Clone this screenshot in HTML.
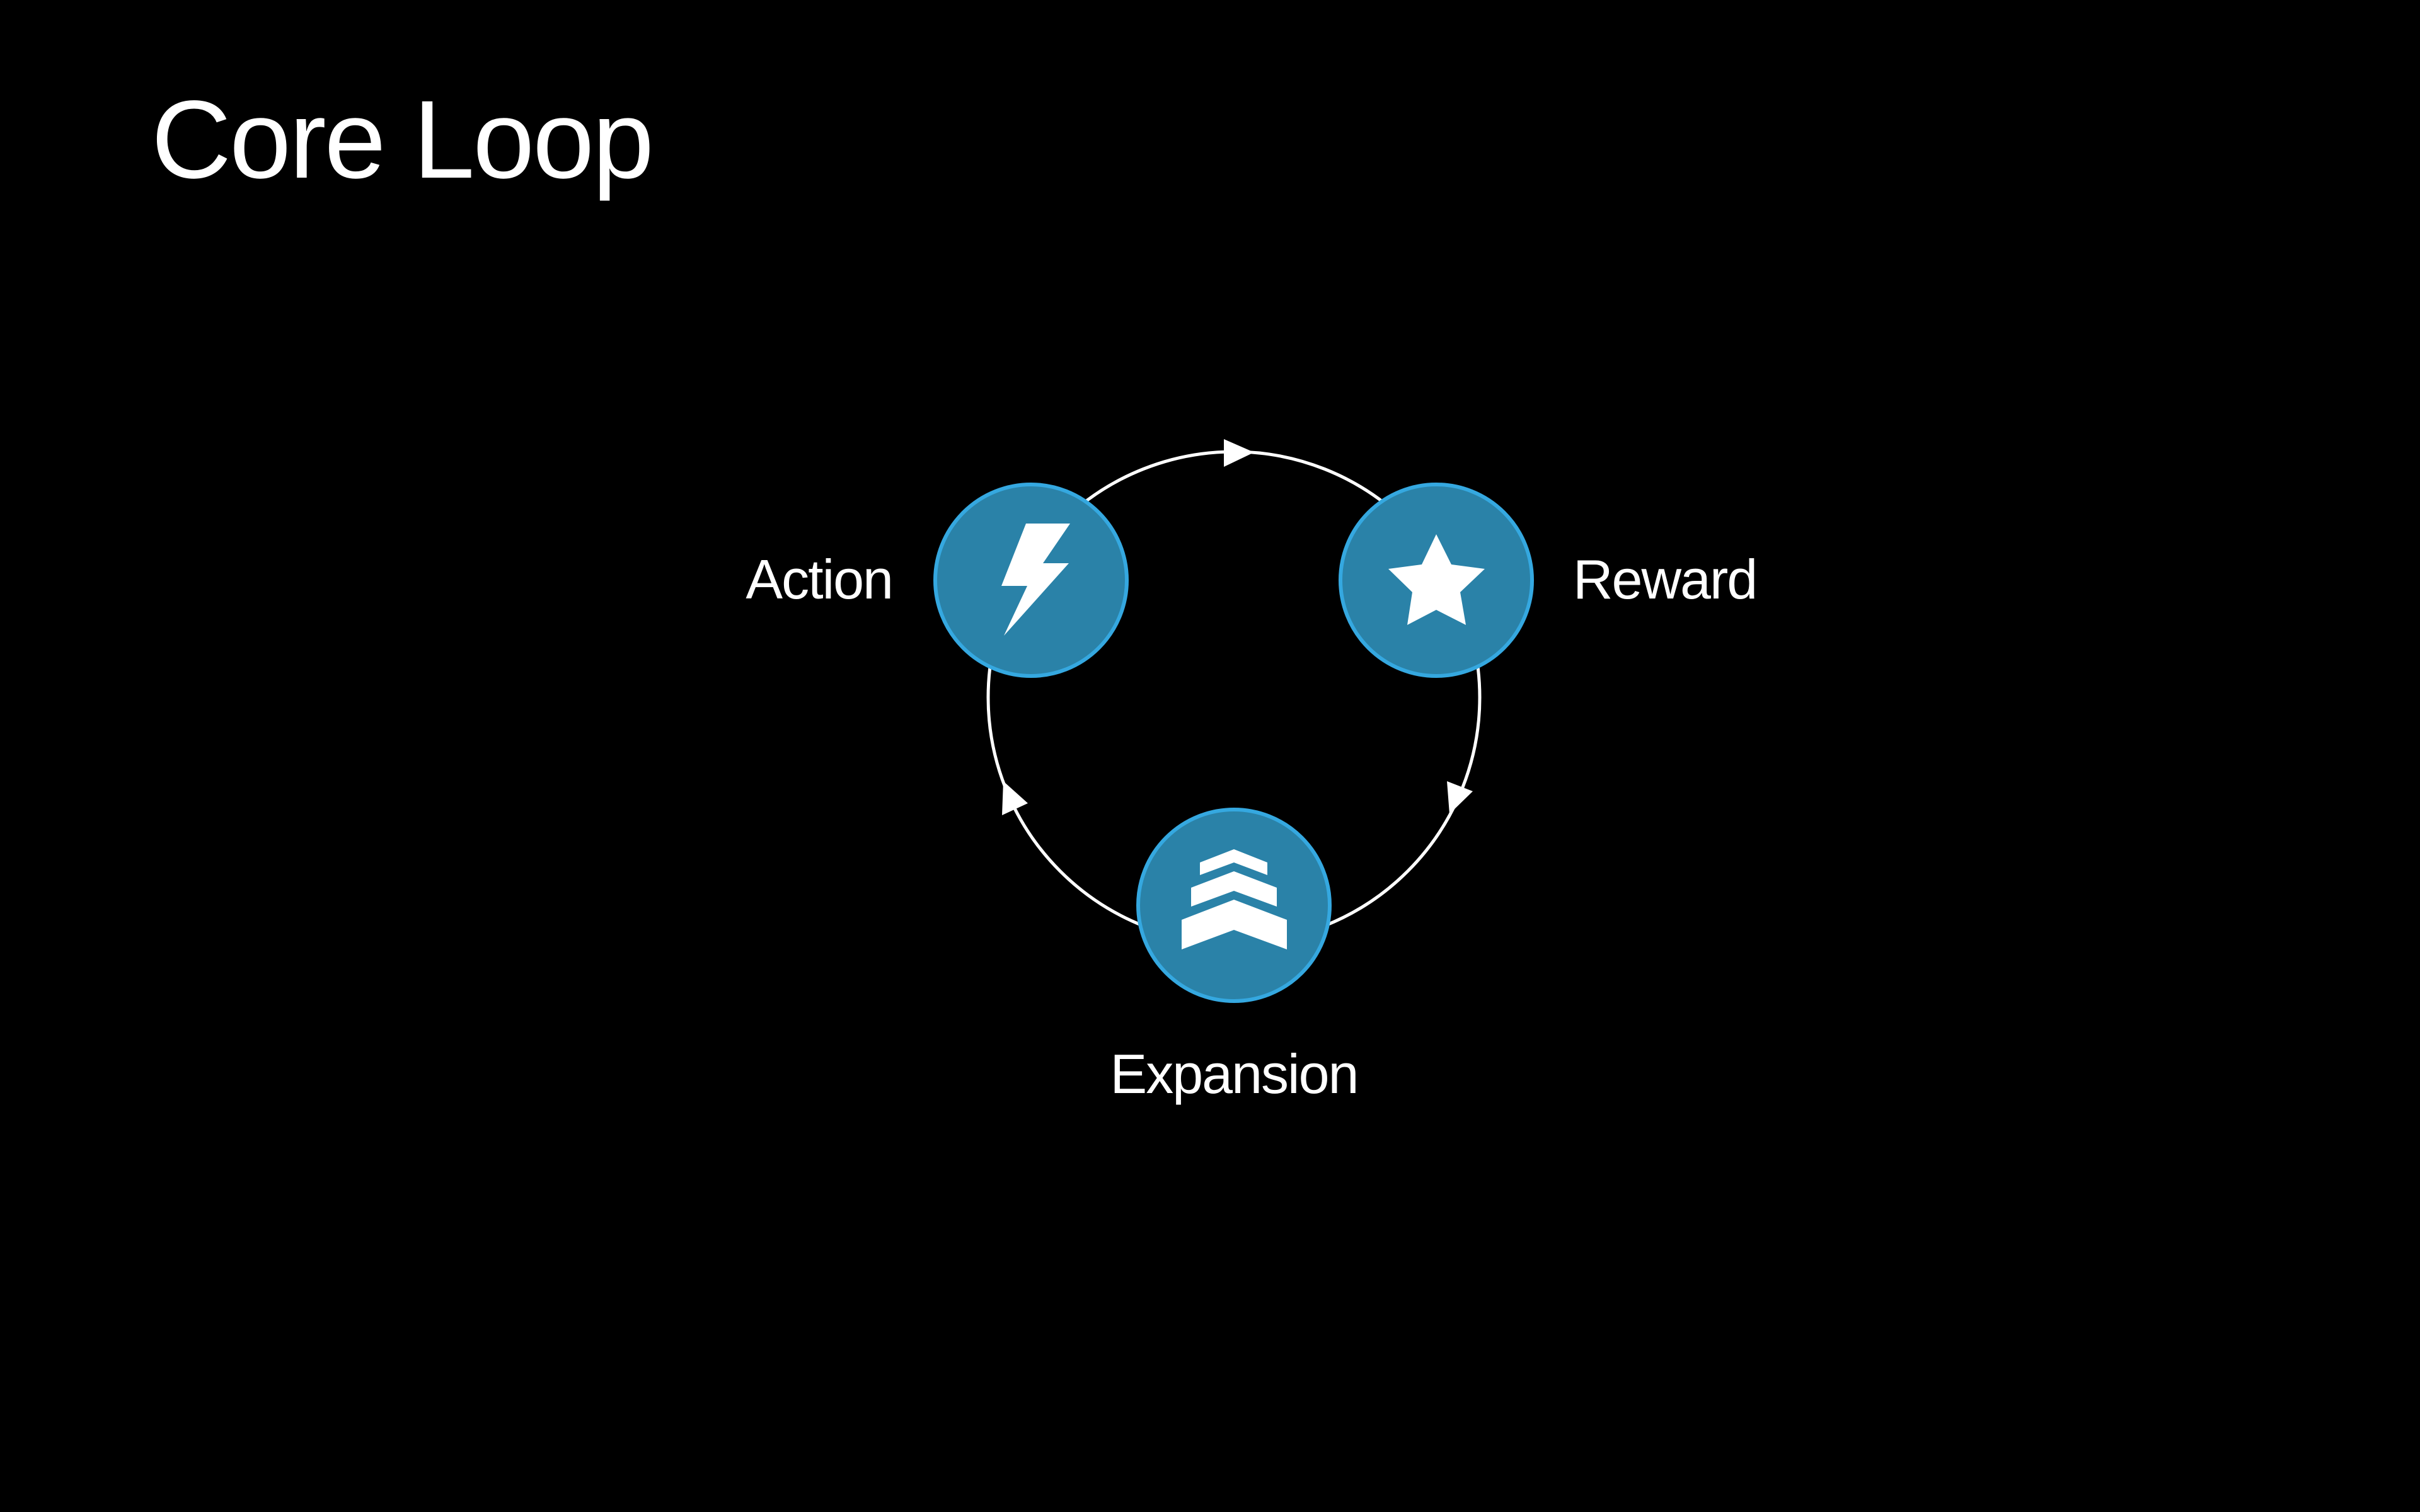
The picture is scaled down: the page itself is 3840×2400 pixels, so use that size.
<!DOCTYPE html>
<html><head><meta charset="utf-8"><style>
html,body{margin:0;padding:0;background:#000;}
svg{display:block}
text{font-family:"Liberation Sans",sans-serif;fill:#fff}
</style></head><body>
<svg width="3840" height="2400" viewBox="0 0 3840 2400" xmlns="http://www.w3.org/2000/svg">
<rect width="3840" height="2400" fill="#000"/>
<text x="240" y="282" font-size="176" letter-spacing="-3">Core Loop</text>
<circle cx="1958" cy="1107" r="390" fill="none" stroke="#fff" stroke-width="5"/>
<polygon points="1990,718 1942,697 1942,741" fill="#fff"/>
<polygon points="2296,1240 2337,1256 2300,1292" fill="#fff"/>
<polygon points="1592,1240 1631,1275 1590,1294" fill="#fff"/>
<g fill="#2a82a8" stroke="#35a8e0" stroke-width="6">
<circle cx="1636" cy="921" r="152"/>
<circle cx="2279" cy="921" r="152"/>
<circle cx="1958" cy="1437" r="152"/>
</g>
<g fill="#fff">
<polygon points="1628,831 1698,831 1655,894 1696,894 1593,1009 1630,930 1589,930"/>
<polygon points="2279,848 2256,896 2203,903 2241,940 2233,992 2279,968 2326,992 2317,940 2356,903 2303,896"/>
<polygon points="1904,1369 1958,1348 2011,1369 2011,1389 1958,1369 1904,1389"/>
<polygon points="1890,1409 1958,1383 2026,1409 2026,1439 1958,1414 1890,1439"/>
<polygon points="1875,1460 1958,1428 2042,1460 2042,1507 1958,1476 1875,1507"/>
</g>
<text x="1416" y="950" font-size="88" text-anchor="end" letter-spacing="-2">Action</text>
<text x="2496" y="950" font-size="88" letter-spacing="-2">Reward</text>
<text x="1958" y="1735" font-size="88" text-anchor="middle" letter-spacing="-2">Expansion</text>
</svg>
</body></html>
